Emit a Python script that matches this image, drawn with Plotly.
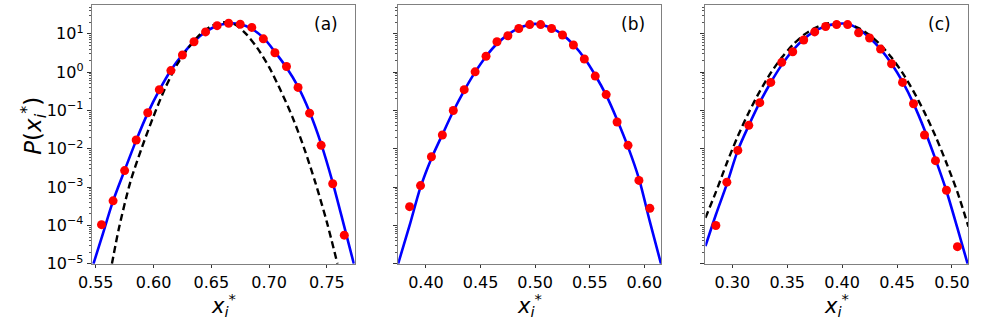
import numpy as np
import plotly.graph_objects as go

# ---------------- data ----------------
# panel (a)
dots_a_x = [0.555, 0.565, 0.575, 0.585, 0.595, 0.605, 0.615, 0.625, 0.635, 0.645, 0.655,
            0.665, 0.675, 0.685, 0.695, 0.705, 0.715, 0.725, 0.735, 0.745, 0.755, 0.765]
dots_a_y = [1.05e-4, 4.4e-4, 2.7e-3, 1.7e-2, 8.7e-2, 0.35, 1.1, 2.8, 6.2, 11.2, 16.3,
            18.9, 17.8, 14.7, 7.4, 3.2, 1.4, 0.40, 0.085, 1.23e-2, 1.23e-3, 5.6e-5]
blue_a_x = [0.548, 0.555, 0.565, 0.575, 0.585, 0.595, 0.605, 0.615, 0.625, 0.635, 0.645, 0.655,
            0.665, 0.675, 0.685, 0.695, 0.705, 0.715, 0.725, 0.735, 0.745, 0.755, 0.765, 0.7733]
blue_a_log10 = [-5.0, -4.33, -3.36, -2.56, -1.78, -1.07, -0.47, 0.05, 0.46, 0.80, 1.05, 1.21,
                1.27, 1.25, 1.13, 0.90, 0.53, 0.12, -0.38, -1.04, -1.87, -2.88, -4.03, -5.0]
dash_a_x = [0.564, 0.570, 0.580, 0.590, 0.600, 0.610, 0.620, 0.630, 0.640, 0.650, 0.660,
            0.670, 0.680, 0.690, 0.700, 0.710, 0.720, 0.730, 0.740, 0.750, 0.7591]
dash_a_log10 = [-5.0, -4.08, -2.86, -1.96, -1.15, -0.42, 0.18, 0.63, 0.98, 1.20, 1.30,
                1.25, 1.00, 0.62, 0.13, -0.48, -1.16, -1.96, -2.88, -3.92, -5.0]

# panel (b)
dots_b_x = [0.385, 0.395, 0.405, 0.415, 0.425, 0.435, 0.445, 0.455, 0.465, 0.475, 0.485, 0.495,
            0.505, 0.515, 0.525, 0.535, 0.545, 0.555, 0.565, 0.575, 0.585, 0.595, 0.605]
dots_b_y = [3.1e-4, 1.1e-3, 6.2e-3, 2.3e-2, 0.10, 0.35, 1.02, 2.6, 6.2, 8.9, 13.8, 17.4,
            17.4, 13.8, 9.3, 5.1, 2.2, 0.79, 0.26, 0.050, 0.0123, 1.5e-3, 2.8e-4]
blue_b_x = [0.3745, 0.385, 0.395, 0.405, 0.415, 0.425, 0.435, 0.445, 0.455, 0.465, 0.475, 0.485,
            0.495, 0.500, 0.505, 0.515, 0.525, 0.535, 0.545, 0.555, 0.565, 0.575, 0.585, 0.595,
            0.605, 0.6152]
blue_b_log10 = [-5.0, -4.0, -3.0, -2.25, -1.63, -1.02, -0.48, 0.0, 0.41, 0.74, 0.98, 1.15,
                1.24, 1.26, 1.24, 1.15, 0.98, 0.72, 0.37, -0.08, -0.60, -1.24, -1.95, -2.78,
                -3.9, -5.0]

# panel (c)
dots_c_x = [0.285, 0.295, 0.305, 0.315, 0.325, 0.335, 0.345, 0.355, 0.365, 0.375, 0.385, 0.395,
            0.405, 0.415, 0.425, 0.435, 0.445, 0.455, 0.465, 0.475, 0.485, 0.495, 0.505]
dots_c_y = [1.0e-4, 1.35e-3, 9.1e-3, 4.1e-2, 0.16, 0.54, 1.8, 3.4, 6.9, 11.2, 15.5, 17.4,
            17.4, 10.7, 7.8, 4.0, 1.66, 0.54, 0.15, 2.3e-2, 4.9e-3, 8.3e-4, 2.8e-5]
blue_c_x = [0.2755, 0.285, 0.295, 0.305, 0.315, 0.325, 0.335, 0.345, 0.355, 0.365, 0.375, 0.385,
            0.395, 0.400, 0.405, 0.415, 0.425, 0.435, 0.445, 0.455, 0.465, 0.475, 0.485, 0.495,
            0.505, 0.5143]
blue_c_log10 = [-4.54, -3.72, -2.92, -2.04, -1.39, -0.79, -0.27, 0.19, 0.57, 0.86, 1.07, 1.20,
                1.26, 1.27, 1.26, 1.12, 0.90, 0.60, 0.22, -0.25, -0.82, -1.50, -2.27, -3.10,
                -4.07, -5.0]
dash_c_x = [0.2755, 0.285, 0.295, 0.305, 0.315, 0.325, 0.335, 0.345, 0.355, 0.365, 0.375, 0.385,
            0.395, 0.405, 0.415, 0.425, 0.435, 0.445, 0.455, 0.465, 0.475, 0.485, 0.495, 0.505,
            0.515]
dash_c_log10 = [-3.80, -3.13, -2.37, -1.67, -1.05, -0.50, -0.02, 0.38, 0.71, 0.97, 1.15, 1.26,
                1.29, 1.26, 1.15, 0.97, 0.71, 0.38, -0.02, -0.50, -1.05, -1.67, -2.37, -3.13,
                -4.03]

ytick_vals = [1e-5, 1e-4, 1e-3, 1e-2, 1e-1, 1e0, 1e1]
ytick_text = ["10<sup>−5</sup>", "10<sup>−4</sup>", "10<sup>−3</sup>", "10<sup>−2</sup>",
              "10<sup>−1</sup>", "10<sup>0</sup>", "10<sup>1</sup>"]
xtick_a = [0.55, 0.60, 0.65, 0.70, 0.75]
xtick_b = [0.40, 0.45, 0.50, 0.55, 0.60]
xtick_c = [0.30, 0.35, 0.40, 0.45, 0.50]
panel_labels = ["(a)", "(b)", "(c)"]
x_title = "<i>x</i><sub><i>i</i></sub><sup>*</sup>"
y_title = "<i>P</i>(<i>x</i><sub><i>i</i></sub><sup>*</sup>)"

# ---------------- figure ----------------
W, H = 996, 332
FONT = "DejaVu Sans"
fig = go.Figure()

panels = [
    dict(dx=dots_a_x, dy=dots_a_y, bx=blue_a_x, by=blue_a_log10, kx=dash_a_x, ky=dash_a_log10,
         dom=(79, 346), rng=(0.5466, 0.7741), ticks=xtick_a),
    dict(dx=dots_b_x, dy=dots_b_y, bx=blue_b_x, by=blue_b_log10, kx=None, ky=None,
         dom=(390, 657), rng=(0.3745, 0.6153), ticks=xtick_b),
    dict(dx=dots_c_x, dy=dots_c_y, bx=blue_c_x, by=blue_c_log10, kx=dash_c_x, ky=dash_c_log10,
         dom=(702, 969), rng=(0.2755, 0.5150), ticks=xtick_c),
]

minor_vals = [m * 10.0 ** k for k in range(-5, 2) for m in range(2, 10)]
ytop, ybot = 5, 272
ydom = [1 - ybot / H, 1 - ytop / H]
axis_col = "#808080"

for i, p in enumerate(panels):
    n = "" if i == 0 else str(i + 1)
    xa, ya = "x" + n, "y" + n
    fig.add_trace(go.Scatter(x=p["bx"], y=(10.0 ** np.array(p["by"])).tolist(), mode="lines",
                             line=dict(color="#0000ff", width=2.6, shape="spline", smoothing=0.8),
                             xaxis=xa, yaxis=ya, showlegend=False))
    if p["kx"] is not None:
        fig.add_trace(go.Scatter(x=p["kx"], y=(10.0 ** np.array(p["ky"])).tolist(), mode="lines",
                                 line=dict(color="black", width=2.4, dash="7px,4px",
                                           shape="spline", smoothing=0.8),
                                 xaxis=xa, yaxis=ya, showlegend=False))
    fig.add_trace(go.Scatter(x=p["dx"], y=p["dy"], mode="markers",
                             marker=dict(color="#ff0000", size=9, line=dict(width=0)),
                             xaxis=xa, yaxis=ya, showlegend=False))

    fig.layout["xaxis" + n] = dict(
        domain=[p["dom"][0] / W, p["dom"][1] / W], range=list(p["rng"]), anchor=ya,
        tickmode="array", tickvals=p["ticks"], ticktext=["%.2f" % t for t in p["ticks"]],
        ticks="outside", ticklen=3.5, tickwidth=1, tickcolor="#333",
        showline=True, linecolor=axis_col, linewidth=1.2, mirror=True,
        showgrid=False, zeroline=False,
        tickfont=dict(family=FONT, size=16, color="black"),
    )
    fig.layout["yaxis" + n] = dict(
        domain=ydom, type="log", range=[-5, np.log10(57)], anchor=xa,
        tickmode="array", tickvals=ytick_vals, ticktext=ytick_text,
        showticklabels=(i == 0),
        ticks="outside", ticklen=4, tickwidth=1, tickcolor="#333",
        minor=dict(ticks="outside", ticklen=2, tickwidth=1, tickcolor="#555",
                   tickmode="array", tickvals=minor_vals),
        showline=True, linecolor=axis_col, linewidth=1.2, mirror=True,
        showgrid=False, zeroline=False,
        tickfont=dict(family=FONT, size=16, color="black"),
    )
    # panel label
    fig.add_annotation(x=(p["dom"][1] - 29) / W, y=1 - 25 / H, xref="paper", yref="paper",
                       text=panel_labels[i], showarrow=False, xanchor="center", yanchor="middle",
                       font=dict(family=FONT, size=17, color="black"))
    # x-axis label
    cx = (p["dom"][0] + p["dom"][1]) / 2
    fig.add_annotation(x=cx / W, y=1 - 332 / H, xref="paper", yref="paper",
                       text=x_title, showarrow=False,
                       xanchor="center", yanchor="bottom",
                       font=dict(family=FONT, size=21, color="black"))

# y-axis title
fig.add_annotation(x=19 / W, y=1 - 130 / H, xref="paper", yref="paper",
                   text=y_title, showarrow=False,
                   textangle=-90, xanchor="center", yanchor="middle",
                   font=dict(family=FONT, size=23, color="black"))

fig.update_layout(width=W, height=H, margin=dict(l=0, r=0, t=0, b=0),
                  paper_bgcolor="white", plot_bgcolor="white")
fig.write_html("out.html")
